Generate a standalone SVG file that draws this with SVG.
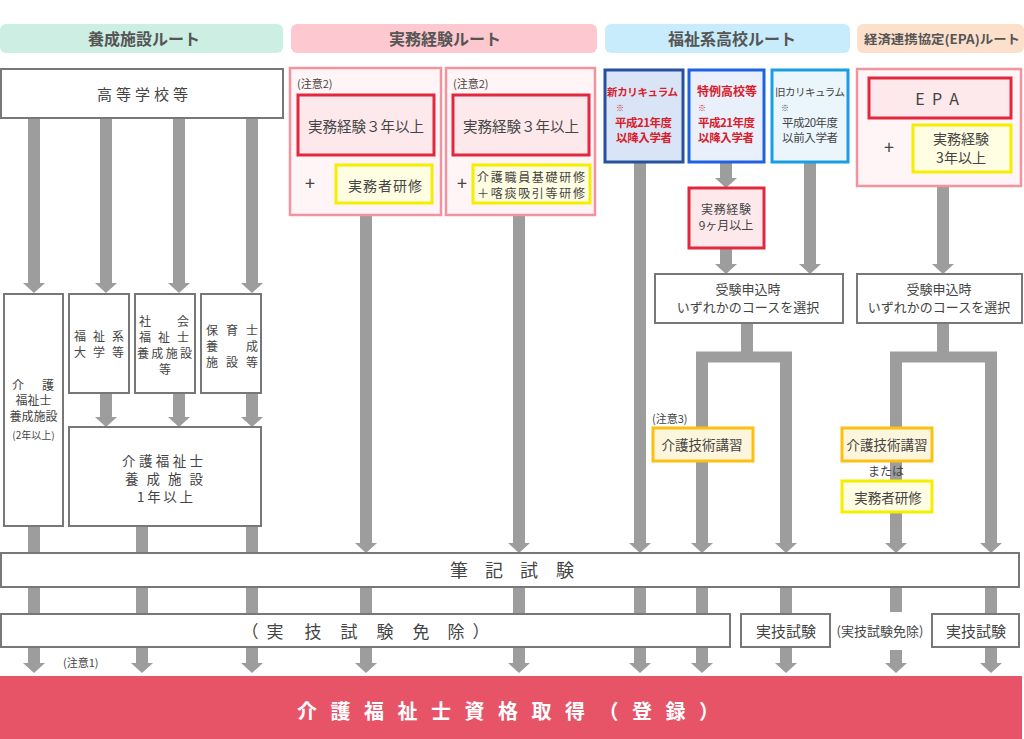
<svg xmlns="http://www.w3.org/2000/svg" width="1024" height="739" viewBox="0 0 1024 739">
<defs>
<marker id="ah" markerUnits="userSpaceOnUse" markerWidth="10" markerHeight="22" viewBox="0 0 10 22" refX="0" refY="11" orient="auto">
<path d="M0,0 L10,11 L0,22 Z" fill="#9d9d9d"/>
</marker>
<style>
text{font-family:'Noto Sans CJK JP','Noto Sans',sans-serif;fill:#444;}
.hdr{font-size:16px;font-weight:bold;fill:#555;text-anchor:middle;}
.box{fill:#fff;stroke:#777;stroke-width:2;}
.po{fill:#fff4f6;stroke:#f4929e;stroke-width:2.5;}
.rb{fill:#fde9ec;stroke:#e2283e;stroke-width:3;}
.yb{fill:#fffde2;stroke:#f6ee00;stroke-width:3;}
.ob{fill:#fdf6dc;stroke:#fdc010;stroke-width:3;}
.c{stroke:#9d9d9d;stroke-width:12;fill:none;}
.m{text-anchor:middle;}
.red{fill:#d8202a;font-weight:bold;}
.s11{font-size:11px;}
.s12{font-size:12px;}
.s13{font-size:13px;}
.s14{font-size:14px;}
.yr{font-size:11.5px;}
</style>
</defs>
<rect width="1024" height="739" fill="#fff"/>

<g id="headers">
<rect x="0" y="24" width="283" height="29" rx="6" fill="#cdeee3"/>
<text class="hdr" x="144" y="45">養成施設ルート</text>
<rect x="291" y="24" width="306" height="29" rx="6" fill="#fdc8cf"/>
<text class="hdr" x="445" y="45">実務経験ルート</text>
<rect x="605" y="24" width="245" height="29" rx="6" fill="#c8ecfb"/>
<text class="hdr" x="732" y="45">福祉系高校ルート</text>
<rect x="857" y="24" width="167" height="29" rx="6" fill="#fde0cc"/>
<text class="hdr" x="864" y="44" style="font-size:12.5px;text-anchor:start" textLength="156" lengthAdjust="spacingAndGlyphs">経済連携協定(EPA)ルート</text>
</g>

<g id="connectors">
<line class="c" x1="34" y1="118" x2="34" y2="283" marker-end="url(#ah)"/>
<line class="c" x1="106" y1="118" x2="106" y2="283" marker-end="url(#ah)"/>
<line class="c" x1="179" y1="118" x2="179" y2="283" marker-end="url(#ah)"/>
<line class="c" x1="252" y1="118" x2="252" y2="283" marker-end="url(#ah)"/>
<line class="c" x1="106" y1="393" x2="106" y2="417" marker-end="url(#ah)"/>
<line class="c" x1="179" y1="393" x2="179" y2="417" marker-end="url(#ah)"/>
<line class="c" x1="252" y1="393" x2="252" y2="417" marker-end="url(#ah)"/>
<line class="c" x1="34" y1="526" x2="34" y2="553"/>
<line class="c" x1="142" y1="526" x2="142" y2="553"/>
<line class="c" x1="252" y1="526" x2="252" y2="553"/>
<line class="c" x1="366" y1="215" x2="366" y2="543" marker-end="url(#ah)"/>
<line class="c" x1="519" y1="215" x2="519" y2="543" marker-end="url(#ah)"/>
<line class="c" x1="640" y1="162" x2="640" y2="543" marker-end="url(#ah)"/>
<line class="c" x1="726" y1="162" x2="726" y2="178" marker-end="url(#ah)"/>
<line class="c" x1="726" y1="248" x2="726" y2="264" marker-end="url(#ah)"/>
<line class="c" x1="810" y1="162" x2="810" y2="264" marker-end="url(#ah)"/>
<line class="c" x1="747" y1="323" x2="747" y2="357"/>
<line class="c" x1="696" y1="357" x2="792" y2="357" style="stroke-width:11"/>
<line class="c" x1="702" y1="352" x2="702" y2="543" marker-end="url(#ah)"/>
<line class="c" x1="786" y1="352" x2="786" y2="543" marker-end="url(#ah)"/>
<line class="c" x1="943" y1="186" x2="943" y2="264" marker-end="url(#ah)"/>
<line class="c" x1="943" y1="323" x2="943" y2="357"/>
<line class="c" x1="890" y1="357" x2="997" y2="357" style="stroke-width:11"/>
<line class="c" x1="896" y1="352" x2="896" y2="543" marker-end="url(#ah)"/>
<line class="c" x1="991" y1="352" x2="991" y2="543" marker-end="url(#ah)"/>
<path class="c" d="M34,587V614M142,587V614M252,587V614M366,587V614M519,587V614M640,587V614M702,587V614M786,587V614M896,587V612M991,587V614"/>
<line class="c" x1="34" y1="647" x2="34" y2="663" marker-end="url(#ah)"/>
<line class="c" x1="142" y1="647" x2="142" y2="663" marker-end="url(#ah)"/>
<line class="c" x1="252" y1="647" x2="252" y2="663" marker-end="url(#ah)"/>
<line class="c" x1="366" y1="647" x2="366" y2="663" marker-end="url(#ah)"/>
<line class="c" x1="519" y1="647" x2="519" y2="663" marker-end="url(#ah)"/>
<line class="c" x1="640" y1="647" x2="640" y2="663" marker-end="url(#ah)"/>
<line class="c" x1="702" y1="647" x2="702" y2="663" marker-end="url(#ah)"/>
<line class="c" x1="786" y1="647" x2="786" y2="663" marker-end="url(#ah)"/>
<line class="c" x1="896" y1="650" x2="896" y2="663" marker-end="url(#ah)"/>
<line class="c" x1="991" y1="647" x2="991" y2="663" marker-end="url(#ah)"/>
</g>

<g id="koutou">
<rect class="box" x="1" y="69" width="282" height="49"/>
<text x="97" y="100" style="font-size:15px" textLength="91" lengthAdjust="spacing">高等学校等</text>
</g>

<g id="yousei2">
<rect class="box" x="4" y="294" width="59" height="232"/>
<text class="s12" x="12" y="390" textLength="42" lengthAdjust="spacing">介護</text>
<text class="s12 m" x="33.5" y="405">福祉士</text>
<text class="s12 m" x="33.5" y="421">養成施設</text>
<text class="m" x="33.5" y="439" style="font-size:10px">(2年以上)</text>
</g>

<g id="fukushidai">
<rect class="box" x="69" y="294" width="60" height="99"/>
<text class="s12" x="74" y="341" textLength="50" lengthAdjust="spacing">福祉系</text>
<text class="s12" x="74" y="357" textLength="50" lengthAdjust="spacing">大学等</text>
</g>

<g id="shakai">
<rect class="box" x="135" y="294" width="60" height="99"/>
<text class="s12" x="139" y="326" textLength="50" lengthAdjust="spacing">社会</text>
<text class="s12" x="139" y="342" textLength="50" lengthAdjust="spacing">福祉士</text>
<text class="s12" x="137" y="358" textLength="55" lengthAdjust="spacing">養成施設</text>
<text class="s12 m" x="165" y="374">等</text>
</g>

<g id="hoiku">
<rect class="box" x="201" y="294" width="60" height="99"/>
<text class="s12" x="206" y="335" textLength="52" lengthAdjust="spacing">保育士</text>
<text class="s12" x="206" y="351" textLength="52" lengthAdjust="spacing">養成</text>
<text class="s12" x="206" y="367" textLength="52" lengthAdjust="spacing">施設等</text>
</g>

<g id="yousei1">
<rect class="box" x="69" y="427" width="192" height="99"/>
<text x="122" y="466" style="font-size:13.5px" textLength="81" lengthAdjust="spacing">介護福祉士</text>
<text x="125" y="484" style="font-size:13.5px" textLength="78" lengthAdjust="spacing">養成施設</text>
<text x="137" y="502" style="font-size:13.5px" textLength="56" lengthAdjust="spacing">1年以上</text>
</g>

<g id="jitsumu1">
<rect class="po" x="290" y="68" width="151" height="147"/>
<text class="s11" x="297" y="88">(注意2)</text>
<rect class="rb" x="298" y="95" width="136" height="60"/>
<text class="m" x="366" y="132" style="font-size:14.5px">実務経験３年以上</text>
<text class="m" x="310" y="190" style="font-size:18px">+</text>
<rect class="yb" x="336" y="165" width="96" height="38"/>
<text class="s14" x="348" y="191" textLength="74" lengthAdjust="spacing">実務者研修</text>
</g>

<g id="jitsumu2">
<rect class="po" x="446" y="68" width="149" height="147"/>
<text class="s11" x="453" y="88">(注意2)</text>
<rect class="rb" x="453" y="95" width="136" height="60"/>
<text class="m" x="521" y="132" style="font-size:14.5px">実務経験３年以上</text>
<text class="m" x="462" y="190" style="font-size:18px">+</text>
<rect class="yb" x="473" y="165" width="117" height="38"/>
<text class="s12" x="477" y="182" textLength="108" lengthAdjust="spacing">介護職員基礎研修</text>
<text class="s12" x="477" y="198" textLength="108" lengthAdjust="spacing">＋喀痰吸引等研修</text>
</g>

<g id="shin">
<rect x="605" y="70" width="78" height="92" fill="#d9e4f6" stroke="#27509f" stroke-width="3"/>
<text class="red" x="607" y="96" style="font-size:10.5px" textLength="71" lengthAdjust="spacing">新カリキュラム</text>
<text class="red" x="620" y="111" text-anchor="middle" style="font-size:8px;font-weight:normal">※</text>
<text class="red yr" x="615" y="126.5" textLength="57" lengthAdjust="spacing">平成21年度</text>
<text class="red yr" x="616" y="142" textLength="56" lengthAdjust="spacing">以降入学者</text>
</g>

<g id="tokurei">
<rect x="689" y="70" width="75" height="92" fill="#e9f0fc" stroke="#1f62e0" stroke-width="3"/>
<text class="red" x="697" y="96" style="font-size:12px" textLength="60" lengthAdjust="spacing">特例高校等</text>
<text class="red" x="702" y="111" text-anchor="middle" style="font-size:8px;font-weight:normal">※</text>
<text class="red yr" x="698" y="126.5" textLength="57" lengthAdjust="spacing">平成21年度</text>
<text class="red yr" x="698" y="142" textLength="56" lengthAdjust="spacing">以降入学者</text>
</g>

<g id="kyu">
<rect x="772" y="70" width="76" height="92" fill="#ebf6fc" stroke="#1a9ee2" stroke-width="3"/>
<text x="775" y="96" style="font-size:10.5px" textLength="70" lengthAdjust="spacing">旧カリキュラム</text>
<text x="785" y="111" text-anchor="middle" style="font-size:8px">※</text>
<text class="yr" x="782" y="126.5" textLength="56" lengthAdjust="spacing">平成20年度</text>
<text class="yr" x="782" y="142" textLength="56" lengthAdjust="spacing">以前入学者</text>
</g>

<g id="kyukagetsu">
<rect class="rb" x="689" y="188" width="75" height="60"/>
<text class="m" x="726" y="214" style="font-size:12px" textLength="50" lengthAdjust="spacing">実務経験</text>
<text class="m" x="726" y="230" style="font-size:12px">9ヶ月以上</text>
</g>

<g id="sentaku1">
<rect class="box" x="655" y="274" width="188" height="49"/>
<text class="s13 m" x="748" y="294">受験申込時</text>
<text class="s13 m" x="748" y="312">いずれかのコースを選択</text>
</g>

<g id="kaigogijutsu1">
<text class="s11" x="652" y="423">(注意3)</text>
<rect class="ob" x="653" y="428" width="100" height="33"/>
<text class="m" x="702" y="450" style="font-size:13.5px">介護技術講習</text>
</g>

<g id="epa">
<rect class="po" x="857" y="69" width="164" height="117"/>
<rect class="rb" x="869" y="78" width="142" height="40"/>
<text x="920 937 954" y="105" class="m" style="font-size:16px">EPA</text>
<text class="m" x="889" y="154" style="font-size:18px">+</text>
<rect class="yb" x="913" y="125" width="98" height="47"/>
<text class="s14 m" x="961" y="144">実務経験</text>
<text class="s14 m" x="961" y="163">3年以上</text>
</g>

<g id="sentaku2">
<rect class="box" x="857" y="274" width="165" height="49"/>
<text class="s13 m" x="939" y="294">受験申込時</text>
<text class="s13 m" x="939" y="312">いずれかのコースを選択</text>
</g>

<g id="kaigogijutsu2">
<rect class="ob" x="842" y="428" width="90" height="33"/>
<text class="m" x="887" y="450" style="font-size:13.5px">介護技術講習</text>
<text class="s12 m" x="886" y="476">または</text>
<rect class="yb" x="842" y="481" width="90" height="31"/>
<text class="m" x="888" y="503" style="font-size:13.5px">実務者研修</text>
</g>

<g id="hikki">
<rect class="box" x="1" y="553" width="1018" height="34"/>
<text class="m" x="459 494 529 565" y="577" style="font-size:18px">筆記試験</text>
</g>

<g id="menjo">
<rect class="box" x="1" y="614" width="729" height="33"/>
<text class="m" x="250 275 313 349 385 421 456 481" y="638" style="font-size:17px">（実技試験免除）</text>
</g>

<g id="jitsugi1">
<rect class="box" x="741" y="614" width="89" height="33"/>
<text class="m" x="786" y="637" style="font-size:15px">実技試験</text>
</g>
<g id="menjo2">
<text class="s13 m" x="880" y="636">(実技試験免除)</text>
</g>
<g id="jitsugi2">
<rect class="box" x="932" y="614" width="87" height="33"/>
<text class="m" x="976" y="637" style="font-size:15px">実技試験</text>
</g>

<text class="s11" x="63" y="667">(注意1)</text>

<g id="touroku">
<rect x="0" y="676" width="1022" height="63" fill="#e75468"/>
<text x="297" y="719" style="font-size:20px;font-weight:bold;fill:#fff;letter-spacing:13.5px">介護福祉士資格取得（登録）</text>
</g>
</svg>
